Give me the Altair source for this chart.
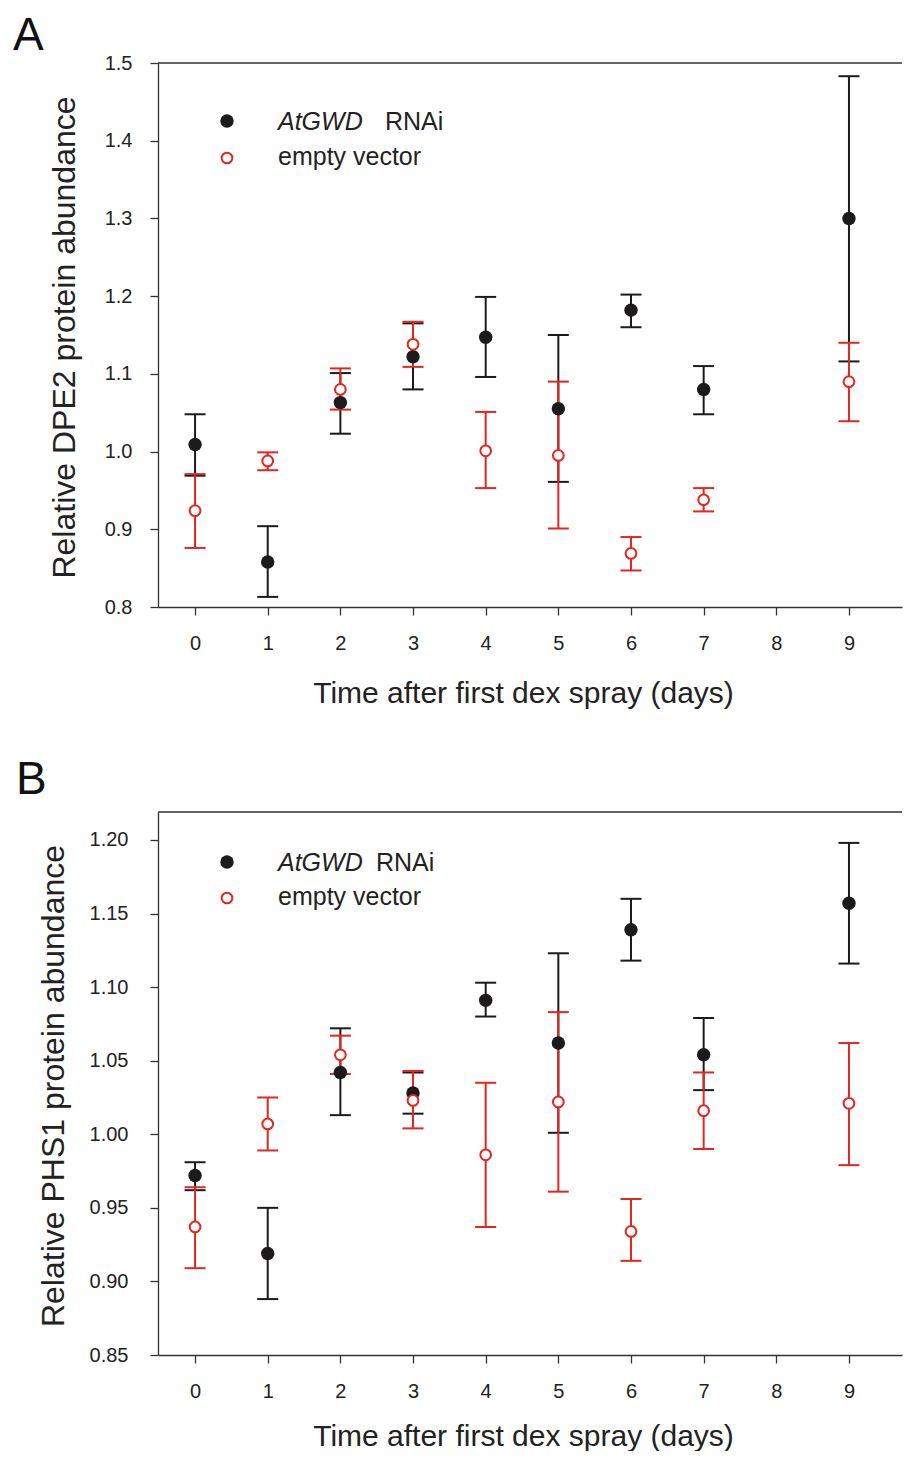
import altair as alt
import pandas as pd

# ---------------- data ----------------
days = [0, 1, 2, 3, 4, 5, 6, 7, 9]
x_ticks = [0, 1, 2, 3, 4, 5, 6, 7, 8, 9]

# Panel A: DPE2
a_gwd_mean = [1.009, 0.858, 1.063, 1.122, 1.147, 1.055, 1.182, 1.080, 1.300]
a_gwd_hi = [1.048, 0.904, 1.101, 1.165, 1.199, 1.150, 1.202, 1.110, 1.483]
a_gwd_lo = [0.969, 0.813, 1.023, 1.080, 1.096, 0.961, 1.160, 1.048, 1.116]
a_ev_mean = [0.924, 0.988, 1.080, 1.138, 1.001, 0.995, 0.869, 0.938, 1.090]
a_ev_hi = [0.971, 0.999, 1.107, 1.167, 1.051, 1.090, 0.890, 0.953, 1.140]
a_ev_lo = [0.876, 0.976, 1.054, 1.109, 0.953, 0.901, 0.847, 0.923, 1.039]
a_y_ticks = [0.8, 0.9, 1.0, 1.1, 1.2, 1.3, 1.4, 1.5]

# Panel B: PHS1
b_gwd_mean = [0.972, 0.919, 1.042, 1.028, 1.091, 1.062, 1.139, 1.054, 1.157]
b_gwd_hi = [0.981, 0.950, 1.072, 1.042, 1.103, 1.123, 1.160, 1.079, 1.198]
b_gwd_lo = [0.962, 0.888, 1.013, 1.014, 1.080, 1.001, 1.118, 1.030, 1.116]
b_ev_mean = [0.937, 1.007, 1.054, 1.023, 0.986, 1.022, 0.934, 1.016, 1.021]
b_ev_hi = [0.964, 1.025, 1.067, 1.043, 1.035, 1.083, 0.956, 1.042, 1.062]
b_ev_lo = [0.909, 0.989, 1.041, 1.004, 0.937, 0.961, 0.914, 0.990, 0.979]
b_y_ticks = [0.85, 0.90, 0.95, 1.00, 1.05, 1.10, 1.15, 1.20]

x_title = "Time after first dex spray (days)"

BLACK = "#1c1a1a"
RED = "#e3261f"
AXIS = "#333333"
TEXT = "#222222"
FONT = "Liberation Sans"

W = 744


def frame(mean, lo, hi):
    return pd.DataFrame({"day": days, "mean": mean, "lo": lo, "hi": hi})


def one():
    return alt.Data(values=[{"k": 0}])


def panel(letter, gwd, ev, H, y_domain, y_ticks, y_fmt, y_title,
          y_label_pad, y_title_x, x_title_y, rnai_x, letter_x, letter_y,
          leg_y):
    g = frame(*gwd)
    e = frame(*ev)

    xenc = alt.X(
        "day:Q",
        scale=alt.Scale(domain=[-0.51, 9.73], nice=False, zero=False),
        axis=alt.Axis(
            values=x_ticks, format="d", grid=False,
            domainColor=AXIS, domainWidth=1.3, tickColor=AXIS, tickWidth=1.3,
            tickSize=8, labelFontSize=20, labelColor=TEXT, labelPadding=18,
            labelFlush=False, titleFontSize=30, titleFontWeight="normal",
            titleColor=TEXT, titleX=365, titleY=x_title_y,
            titleBaseline="alphabetic", titleAlign="center",
        ),
        title=x_title,
    )

    def yenc(field):
        return alt.Y(
            field + ":Q",
            scale=alt.Scale(domain=y_domain, nice=False, zero=False),
            axis=alt.Axis(
                values=y_ticks, format=y_fmt, grid=False,
                domainColor=AXIS, domainWidth=1.3, tickColor=AXIS, tickWidth=1.3,
                tickSize=8, labelFontSize=20, labelColor=TEXT,
                labelPadding=y_label_pad, labelFlush=False,
                titleFontSize=32, titleFontWeight="normal", titleColor=TEXT,
                titleX=y_title_x, titleY=H / 2 + 2, titleBaseline="middle",
                titleAlign="center", titleAngle=-90,
            ),
            title=y_title,
        )

    def bars(df, color):
        rule = alt.Chart(df).mark_rule(color=color, strokeWidth=2).encode(
            x=xenc, y=yenc("lo"), y2="hi:Q")
        cap_hi = alt.Chart(df).mark_tick(
            color=color, thickness=2, size=21, orient="horizontal", opacity=1
        ).encode(x=xenc, y=yenc("hi"))
        cap_lo = alt.Chart(df).mark_tick(
            color=color, thickness=2, size=21, orient="horizontal", opacity=1
        ).encode(x=xenc, y=yenc("lo"))
        return [rule, cap_hi, cap_lo]

    pts_g = alt.Chart(g).mark_point(
        shape="circle", filled=True, color=BLACK, size=180, opacity=1
    ).encode(x=xenc, y=yenc("mean"))
    pts_e = alt.Chart(e).mark_point(
        shape="circle", filled=True, fill="white", stroke=RED, strokeWidth=2,
        size=115, opacity=1
    ).encode(x=xenc, y=yenc("mean"))

    top_border = alt.Chart(one()).mark_rule(color=AXIS, strokeWidth=1.3).encode(
        x=alt.value(0), x2=alt.value(W), y=alt.value(0))

    # legend (drawn by hand to keep the italic gene name)
    y1, y2 = leg_y
    leg_dot = alt.Chart(one()).mark_point(
        shape="circle", filled=True, color=BLACK, size=180, opacity=1
    ).encode(x=alt.value(69), y=alt.value(y1))
    leg_circ = alt.Chart(one()).mark_point(
        shape="circle", filled=True, fill="white", stroke=RED, strokeWidth=2,
        size=115, opacity=1
    ).encode(x=alt.value(69), y=alt.value(y2))
    leg_t1 = alt.Chart(one()).mark_text(
        text="AtGWD", fontStyle="italic", fontSize=25, align="left",
        baseline="alphabetic", color=TEXT, font=FONT
    ).encode(x=alt.value(120), y=alt.value(y1 + 9))
    leg_t2 = alt.Chart(one()).mark_text(
        text="RNAi", fontSize=25, align="left", baseline="alphabetic",
        color=TEXT, font=FONT
    ).encode(x=alt.value(rnai_x), y=alt.value(y1 + 9))
    leg_t3 = alt.Chart(one()).mark_text(
        text="empty vector", fontSize=25, align="left", baseline="alphabetic",
        color=TEXT, font=FONT
    ).encode(x=alt.value(120), y=alt.value(y2 + 7))

    lab = alt.Chart(one()).mark_text(
        text=letter, fontSize=46, align="left", baseline="alphabetic",
        color="#111111", font=FONT
    ).encode(x=alt.value(letter_x), y=alt.value(letter_y))

    layers = (bars(g, BLACK) + bars(e, RED) +
              [pts_g, pts_e, top_border, leg_dot, leg_circ,
               leg_t1, leg_t2, leg_t3, lab])
    return alt.layer(*layers).properties(width=W, height=H)


panel_a = panel(
    "A", (a_gwd_mean, a_gwd_lo, a_gwd_hi), (a_ev_mean, a_ev_lo, a_ev_hi),
    544, [0.8, 1.5], a_y_ticks, ".1f", "Relative DPE2 protein abundance",
    18, -94, 95, 227, -145, -13, (58, 95))

panel_b = panel(
    "B", (b_gwd_mean, b_gwd_lo, b_gwd_hi), (b_ev_mean, b_ev_lo, b_ev_hi),
    543, [0.85, 1.219], b_y_ticks, ".2f", "Relative PHS1 protein abundance",
    22, -105, 90, 218, -142, -18, (50, 86))

chart = alt.vconcat(panel_a, panel_b, spacing=49).properties(
    padding={"left": 5, "top": 5, "right": 0, "bottom": 0}
).configure_view(stroke=None).configure_axis(
    labelFont=FONT, titleFont=FONT
).configure_text(font=FONT)

chart.save("out.html", embed_options={"renderer": "svg", "actions": False})
